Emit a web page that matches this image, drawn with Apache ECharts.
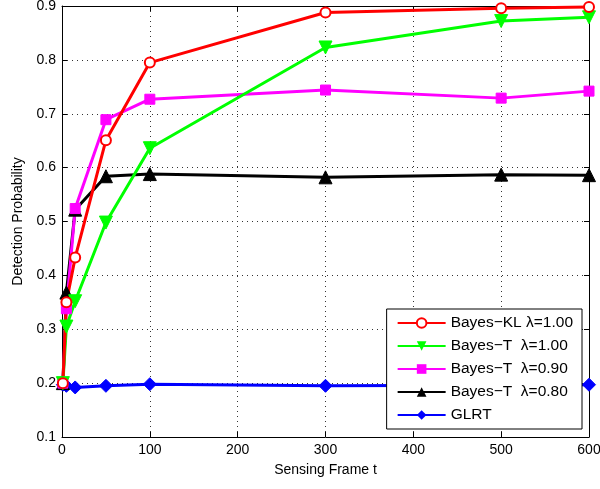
<!DOCTYPE html>
<html><head><meta charset="utf-8">
<script src="https://cdn.jsdelivr.net/npm/echarts@6/dist/echarts.min.js"></script>
<style>html,body{margin:0;padding:0;background:#fff}#c{width:600px;height:489px}</style>
</head><body><div id="c"></div>
<script>
const frames = [1, 5, 15, 50, 100, 300, 500, 600];
const bayesKL100 = [0.200, 0.350, 0.433, 0.651, 0.795, 0.888, 0.896, 0.898];
const bayesT100  = [0.200, 0.305, 0.352, 0.498, 0.636, 0.823, 0.872, 0.879];
const bayesT090  = [0.200, 0.338, 0.524, 0.689, 0.727, 0.744, 0.729, 0.742];
const bayesT080  = [0.200, 0.368, 0.522, 0.584, 0.588, 0.582, 0.587, 0.586];
const glrt       = [0.197, 0.195, 0.192, 0.195, 0.198, 0.195, 0.196, 0.197];
const seriesNames = ['Bayes\u2212KL \u03bb=1.00', 'Bayes\u2212T  \u03bb=1.00', 'Bayes\u2212T  \u03bb=0.90', 'Bayes\u2212T  \u03bb=0.80', 'GLRT'];
const xTicks = [0, 100, 200, 300, 400, 500, 600];
const yTicks = [0.1, 0.2, 0.3, 0.4, 0.5, 0.6, 0.7, 0.8, 0.9];

const font = 'Liberation Sans, Arial, Helvetica, sans-serif';
const pair = arr => frames.map((f, i) => [f, arr[i]]);
function mk(name, data, color, symbol, size, extra) {
  return Object.assign({
    name, type: 'line', data: pair(data), symbol, symbolSize: size,
    lineStyle: { color, width: 3 }, itemStyle: { color, borderColor: color },
    color, z: 3, animation: false
  }, extra || {});
}
const chart = echarts.init(document.getElementById('c'));
const grid = { left: 62, right: 11, top: 6, bottom: 52, show: false, outerBoundsMode: 'none', containLabel: false };
chart.setOption({
  animation: false,
  grid,
  legend: {
    orient: 'vertical', right: 18, bottom: 60, itemWidth: 48, itemHeight: 12, itemGap: 7,
    backgroundColor: '#fff', borderColor: '#000', borderWidth: 1, padding: [6, 9, 6, 10],
    textStyle: { fontFamily: font, fontSize: 15.5, color: '#000' },
    data: seriesNames
  },
  xAxis: [{
    type: 'value', min: 0, max: 600, interval: 100,
    name: 'Sensing Frame t', nameLocation: 'middle', nameGap: 26,
    nameTextStyle: { fontFamily: font, fontSize: 14, color: '#000' },
    axisLine: { show: true, lineStyle: { color: '#000', width: 1 } },
    axisTick: { show: true, inside: true, length: 5, lineStyle: { color: '#000' } },
    axisLabel: { fontFamily: font, fontSize: 14, color: '#000', margin: 6 },
    splitLine: { show: true, lineStyle: { color: '#333', type: [1, 4], width: 1 } }
  }, {
    type: 'value', min: 0, max: 600, interval: 100, position: 'top',
    axisLine: { show: true, onZero: false, lineStyle: { color: '#000', width: 1 } },
    axisTick: { show: true, inside: true, length: 5, lineStyle: { color: '#000' } },
    axisLabel: { show: false }, splitLine: { show: false }
  }],
  yAxis: [{
    type: 'value', min: 0.1, max: 0.9, interval: 0.1,
    name: 'Detection Probability', nameLocation: 'middle', nameGap: 37,
    nameTextStyle: { fontFamily: font, fontSize: 14, color: '#000' },
    axisLine: { show: true, lineStyle: { color: '#000', width: 1 } },
    axisTick: { show: true, inside: true, length: 5, lineStyle: { color: '#000' } },
    axisLabel: { fontFamily: font, fontSize: 14, color: '#000', margin: 6, formatter: v => v.toFixed(1) },
    splitLine: { show: true, lineStyle: { color: '#333', type: [1, 4], width: 1 } }
  }, {
    type: 'value', min: 0.1, max: 0.9, interval: 0.1, position: 'right',
    axisLine: { show: true, onZero: false, lineStyle: { color: '#000', width: 1 } },
    axisTick: { show: true, inside: true, length: 5, lineStyle: { color: '#000' } },
    axisLabel: { show: false }, splitLine: { show: false }
  }],
  series: [
    mk(seriesNames[4], glrt, '#0000ff', 'diamond', 13),
    mk(seriesNames[3], bayesT080, '#000000', 'triangle', 13),
    mk(seriesNames[2], bayesT090, '#ff00ff', 'rect', 10),
    mk(seriesNames[1], bayesT100, '#00ff00', 'path://M0,0 L10,0 L5,9 Z', 13),
    mk(seriesNames[0], bayesKL100, '#ff0000', 'emptyCircle', 10, { itemStyle: { color: '#ff0000', borderColor: '#ff0000', borderWidth: 2 } })
  ]
});
</script></body></html>
